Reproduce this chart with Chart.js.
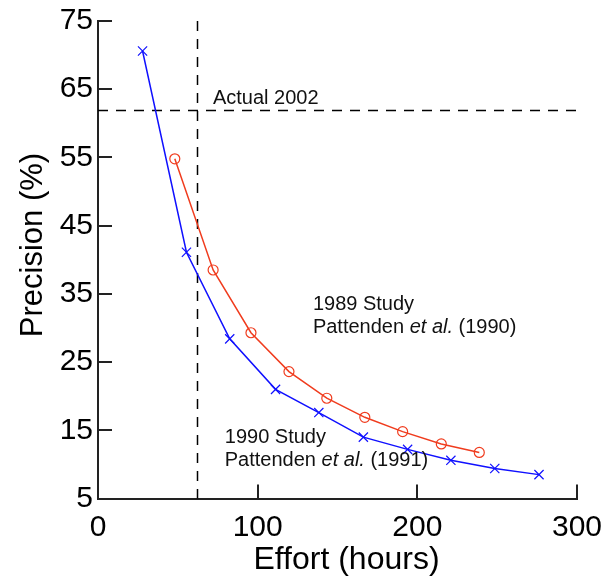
<!DOCTYPE html>
<html>
<head>
<meta charset="utf-8">
<script src="https://cdn.jsdelivr.net/npm/chart.js@4"></script>
<style>
  html, body { margin: 0; padding: 0; background: #fff; }
  #c { display: block; }
</style>
</head>
<body>
<canvas id="c" width="607" height="577"></canvas>
<script>
// ---- data ----
const effort1990 = [27.9, 55.4, 82.5, 111.2, 138.3, 166.2, 193.9, 221.0, 248.5, 276.2];
const precision1990 = [70.6, 41.1, 28.4, 21.0, 17.6, 14.0, 12.2, 10.6, 9.4, 8.5];
const effort1989 = [48.1, 72.1, 95.8, 119.6, 143.3, 167.1, 190.8, 215.0, 238.8];
const precision1989 = [54.8, 38.5, 29.3, 23.6, 19.7, 16.9, 14.8, 13.0, 11.75];
const actualEffort2002 = 62;
const actualPrecision2002 = 62;
const xTickValues = [0, 100, 200, 300];
const yTickValues = [5, 15, 25, 35, 45, 55, 65, 75];
const labelActual = 'Actual 2002';
const label1989 = ['1989 Study', 'Pattenden ', 'et al.', ' (1990)'];
const label1990 = ['1990 Study', 'Pattenden ', 'et al.', ' (1991)'];
const xTitle = 'Effort (hours)';
const yTitle = 'Precision (%)';

const FONT = "'Liberation Sans', Arial, Helvetica, sans-serif";
const toPts = (xs, ys) => xs.map((x, i) => ({ x: x, y: ys[i] }));

function drawRich(ctx, parts, x, y, size) {
  let cx = x;
  parts.forEach((p, i) => {
    ctx.font = (i === 1 ? 'italic ' : '') + size + 'px ' + FONT;
    ctx.fillText(p, cx, y);
    cx += ctx.measureText(p).width;
  });
}

const overlay = {
  id: 'overlay',
  beforeDatasetsDraw(chart) {
    const { ctx, chartArea: a, scales: { x, y } } = chart;
    ctx.save();
    ctx.strokeStyle = '#000';
    ctx.lineWidth = 1.5;
    ctx.setLineDash([10, 8]);
    const vx = Math.round(x.getPixelForValue(actualEffort2002)) + 0.5;
    ctx.beginPath();
    ctx.moveTo(vx, a.top);
    ctx.lineTo(vx, a.bottom);
    ctx.stroke();
    const hy = Math.round(y.getPixelForValue(actualPrecision2002)) + 0.5;
    ctx.beginPath();
    ctx.moveTo(a.left, hy);
    ctx.lineTo(a.right, hy);
    ctx.stroke();
    ctx.restore();
  },
  afterDraw(chart) {
    const { ctx, chartArea: a, scales: { x, y } } = chart;
    ctx.save();
    // inward tick marks
    ctx.strokeStyle = '#222';
    ctx.lineWidth = 2;
    ctx.setLineDash([]);
    yTickValues.forEach(v => {
      if (v === y.min) return;
      const py = Math.round(y.getPixelForValue(v));
      ctx.beginPath();
      ctx.moveTo(a.left, py);
      ctx.lineTo(a.left + 14, py);
      ctx.stroke();
    });
    xTickValues.forEach(v => {
      if (v === x.min) return;
      const px = Math.round(x.getPixelForValue(v));
      ctx.beginPath();
      ctx.moveTo(px, a.bottom);
      ctx.lineTo(px, a.bottom - 14);
      ctx.stroke();
    });
    // annotation texts
    ctx.fillStyle = '#111';
    ctx.textBaseline = 'alphabetic';
    ctx.textAlign = 'left';
    ctx.font = '20px ' + FONT;
    ctx.fillText(labelActual, x.getPixelForValue(72), y.getPixelForValue(actualPrecision2002) - 6);
    const l1x = x.getPixelForValue(134.6), l1y = y.getPixelForValue(32.6);
    ctx.font = '20px ' + FONT;
    ctx.fillText(label1989[0], l1x, l1y);
    drawRich(ctx, label1989.slice(1), l1x, l1y + 23, 20);
    const l2x = x.getPixelForValue(79.4), l2y = y.getPixelForValue(13.2);
    ctx.font = '20px ' + FONT;
    ctx.fillText(label1990[0], l2x, l2y);
    drawRich(ctx, label1990.slice(1), l2x, l2y + 23, 20);
    // axis titles
    ctx.fillStyle = '#000';
    ctx.textAlign = 'center';
    ctx.font = '32px ' + FONT;
    ctx.fillText(xTitle, 346.5, 569);
    ctx.font = '31px ' + FONT;
    ctx.translate(42, 245);
    ctx.rotate(-Math.PI / 2);
    ctx.fillText(yTitle, 0, 0);
    ctx.restore();
  }
};

new Chart(document.getElementById('c'), {
  type: 'scatter',
  data: {
    datasets: [
      {
        label: '1990 Study',
        data: toPts(effort1990, precision1990),
        showLine: true,
        borderColor: '#1010ff',
        backgroundColor: '#1010ff',
        borderWidth: 1.5,
        pointStyle: 'crossRot',
        pointRadius: 6.5,
        pointBorderWidth: 1.2,
        tension: 0
      },
      {
        label: '1989 Study',
        data: toPts(effort1989, precision1989),
        showLine: true,
        borderColor: '#f03c1e',
        backgroundColor: 'rgba(0,0,0,0)',
        borderWidth: 1.5,
        pointStyle: 'circle',
        pointRadius: 5,
        pointBorderWidth: 1.2,
        tension: 0
      }
    ]
  },
  options: {
    responsive: false,
    animation: false,
    devicePixelRatio: 1,
    layout: { padding: { top: 21, right: 30, left: 0, bottom: 0 } },
    plugins: { legend: { display: false }, tooltip: { enabled: false } },
    scales: {
      x: {
        type: 'linear',
        min: 0, max: 300,
        afterBuildTicks: s => { s.ticks = xTickValues.map(v => ({ value: v })); },
        afterFit: s => { s.height = 78.5; s.paddingLeft = 0; s.paddingRight = 0; },
        grid: { display: false, drawTicks: false },
        border: { display: true, color: '#222', width: 2 },
        ticks: { color: '#000', padding: 11, font: { family: FONT, size: 30 }, maxRotation: 0 }
      },
      y: {
        type: 'linear',
        min: 5, max: 75,
        afterBuildTicks: s => { s.ticks = yTickValues.map(v => ({ value: v })); },
        afterFit: s => { s.width = 98; s.paddingTop = 0; s.paddingBottom = 0; },
        grid: { display: false, drawTicks: false },
        border: { display: true, color: '#222', width: 2 },
        ticks: { color: '#000', padding: 5, font: { family: FONT, size: 30 } }
      }
    }
  },
  plugins: [overlay]
});
</script>
</body>
</html>
